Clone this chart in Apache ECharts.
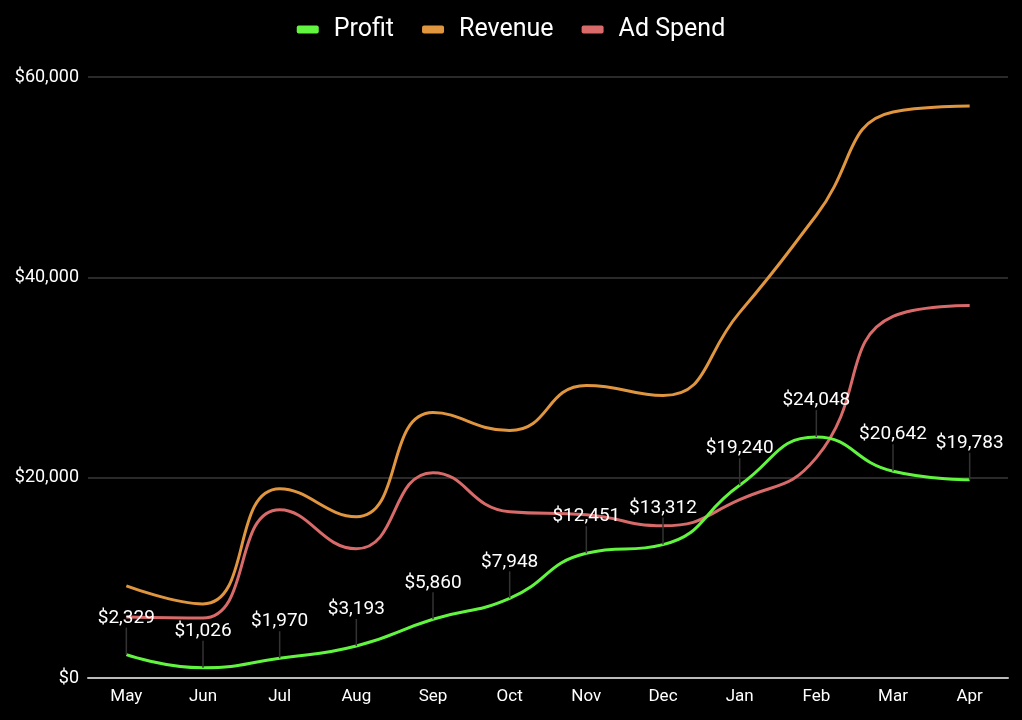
<!DOCTYPE html>
<html><head><meta charset="utf-8">
<style>html,body{margin:0;padding:0;background:#000;}#c{width:1022px;height:720px;}</style>
<script src="https://cdn.jsdelivr.net/npm/echarts@6/dist/echarts.min.js"></script>
</head><body><div id="c"></div>
<script>
const months = ['May','Jun','Jul','Aug','Sep','Oct','Nov','Dec','Jan','Feb','Mar','Apr'];
const profit = [2329,1026,1970,3193,5860,7948,12451,13312,19240,24048,20642,19783];
const revenue = [9200,7400,18900,16100,26500,24700,29200,28200,36500,46200,56500,57100];
const adSpend = [6100,6000,16800,12900,20500,16600,16300,15200,17800,22000,36100,37200];
const yTicks = [0,20000,40000,60000];

const fmt = v => '$' + Math.round(v).toLocaleString('en-US');
const chart = echarts.init(document.getElementById('c'));
chart.setOption({
  backgroundColor:'#000',
  textStyle:{fontFamily:'Roboto'},
  legend:{top:12,left:'center',itemWidth:22,itemHeight:8,itemGap:28,
    icon:'roundRect',
    textStyle:{color:'#fff',fontSize:25,fontFamily:'Roboto',padding:[0,0,0,10]},
    data:['Profit','Revenue','Ad Spend']},
  grid:{left:88,right:14,top:77,bottom:42},
  xAxis:{type:'category',data:months,boundaryGap:true,
    axisLine:{lineStyle:{color:'#bbb',width:2}},axisTick:{show:false},
    axisLabel:{color:'#fff',fontSize:17,margin:10}},
  yAxis:{type:'value',min:yTicks[0],max:yTicks[yTicks.length-1],interval:20000,
    axisLabel:{color:'#fff',fontSize:18,formatter:fmt,margin:9},
    splitLine:{lineStyle:{color:'#383838',width:1.5}},axisLine:{show:false},axisTick:{show:false}},
  series:[
    {name:'Revenue',type:'line',data:revenue,smooth:true,showSymbol:false,symbol:'none',
      lineStyle:{width:3,color:'#e0953f'},itemStyle:{color:'#e0953f'},z:2},
    {name:'Ad Spend',type:'line',data:adSpend,smooth:true,showSymbol:false,symbol:'none',
      lineStyle:{width:3,color:'#d86a6a'},itemStyle:{color:'#d86a6a'},z:3},
    {name:'Profit',type:'line',data:profit,smooth:true,symbol:'circle',symbolSize:0.1,showSymbol:true,
      lineStyle:{width:3,color:'#62f53f'},itemStyle:{color:'#62f53f'},z:4,
      label:{show:true,position:'top',distance:4,color:'#fff',fontSize:19,formatter:p=>fmt(p.value)},
      labelLine:{show:true,lineStyle:{color:'#333',width:1.5}},
      labelLayout:{dy:-23}}
  ]
});
</script></body></html>
